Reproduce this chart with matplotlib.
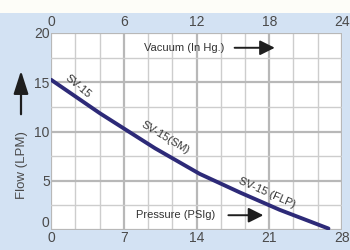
import matplotlib.pyplot as plt
from matplotlib.ticker import MultipleLocator

pressure = [0, 4.7, 10, 14.3, 18.2, 22, 26.7]
flow = [15.25, 11.85, 8.3, 5.7, 3.8, 2.05, 0.15]
bottom_ticks = [0, 7, 14, 21, 28]
top_ticks = [0, 6, 12, 18, 24]
flow_ticks = [0, 5, 10, 15, 20]

plt.rcParams['font.family'] = ['Liberation Sans', 'DejaVu Sans']
txt = '#4a4a4a'
line_c = '#2d2a78'
arrow = dict(arrowstyle='-|>,head_length=0.9,head_width=0.45', color='#1e1e1e', lw=1.4)

fig = plt.figure(figsize=(3.5, 2.5), dpi=100)
fig.patch.set_facecolor('#fdfdf8')
fig.add_artist(plt.Rectangle((0, 0), 1, 0.948, transform=fig.transFigure,
                             facecolor='#d3e2f3', edgecolor='none', zorder=0))

ax = fig.add_axes([0.146, 0.08, 0.831, 0.788])
ax.set_facecolor('white')
ax.set_xlim(0, 28)
ax.set_ylim(0, 20)
ax.xaxis.set_minor_locator(MultipleLocator(28 / 12))
ax.yaxis.set_minor_locator(MultipleLocator(2.5))
ax.set_xticks(bottom_ticks)
ax.set_yticks(flow_ticks)
ax.grid(which='major', color='#b8b8b8', lw=1.6)
ax.grid(which='minor', color='#cdcdcd', lw=1.0)
ax.set_axisbelow(True)
for s in ax.spines.values():
    s.set_visible(False)
ax.tick_params(which='both', length=0, labelsize=10, labelcolor=txt)
ax.tick_params(axis='x', pad=1)
ax.tick_params(axis='y', pad=1)
# the 0 on the flow axis sits just above the corner, like the original
ax.get_yticklabels()[0].set_verticalalignment('bottom')

ax.plot(pressure, flow, color=line_c, lw=2.8, solid_capstyle='round', zorder=3)

top = ax.twiny()
top.set_xlim(0, 24)
top.set_xticks(top_ticks)
top.tick_params(length=0, labelsize=10, labelcolor=txt, pad=3)
for s in top.spines.values():
    s.set_visible(False)

ax.set_ylabel('Flow (LPM)', fontsize=9.5, color=txt)
ax.yaxis.set_label_coords(-0.08, 0.33)

# curve labels
ax.text(2.6, 14.6, 'SV-15', fontsize=8, color='#333333', rotation=-40,
        ha='center', va='center')
ax.text(11.0, 9.4, 'SV-15(SM)', fontsize=8, color='#333333', rotation=-31,
        ha='center', va='center')
ax.text(20.8, 3.8, 'SV-15 (FLP)', fontsize=8, color='#333333', rotation=-24,
        ha='center', va='center')

# axis captions with arrows
ax.text(12.8, 18.5, 'Vacuum (In Hg.)', fontsize=8, color='#333333',
        ha='center', va='center')
ax.annotate('', xy=(21.8, 18.5), xytext=(17.4, 18.5), arrowprops=arrow)
ax.text(12.0, 1.5, 'Pressure (PSIg)', fontsize=8, color='#333333',
        ha='center', va='center')
ax.annotate('', xy=(20.7, 1.5), xytext=(16.8, 1.5), arrowprops=arrow)
ax.annotate('', xy=(0.06, 0.728), xytext=(0.06, 0.532), xycoords='figure fraction',
            arrowprops=dict(arrowstyle='-|>,head_length=1.4,head_width=0.45',
                            color='#1e1e1e', lw=1.6))

fig.savefig('out.png', dpi=100, facecolor=fig.get_facecolor())
